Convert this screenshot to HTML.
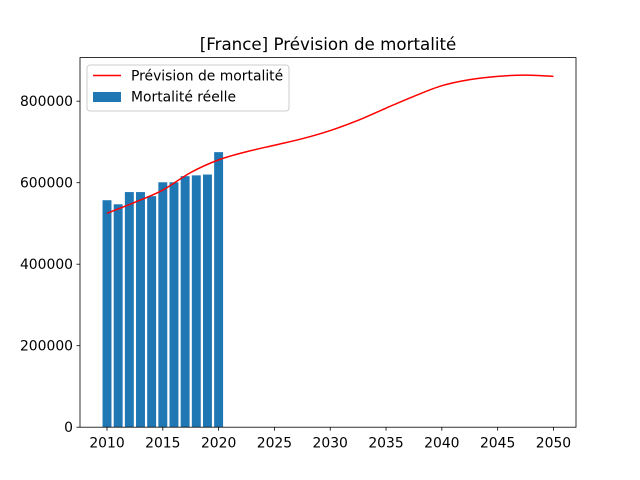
<!DOCTYPE html>
<html><head><meta charset="utf-8"><style>
html,body{margin:0;padding:0;background:#fff;}
svg{display:block;font-family:"DejaVu Sans","Liberation Sans",sans-serif;}
</style></head><body>
<svg id="chart" width="640" height="480" xmlns="http://www.w3.org/2000/svg">
<rect width="640" height="480" fill="#fff"/>
<text x="328" y="50" text-anchor="middle" font-size="16.7" fill="#000">[France] Prévision de mortalité</text>
<g id="bars"></g>
<g id="line"></g>
<g id="axes"></g>
<g>
<rect x="87" y="65" width="202" height="46" rx="3" fill="#fff" fill-opacity="0.8" stroke="#ccc"/>
<line x1="93" y1="75.5" x2="121" y2="75.5" stroke="#ff0000" stroke-width="1.5"/>
<text x="131" y="80.5" font-size="13.9">Prévision de mortalité</text>
<rect x="93" y="92" width="28" height="10" fill="#1f77b4"/>
<text x="131" y="101.5" font-size="13.9">Mortalité réelle</text>
</g>
</svg>
<script>
const barYears=[2010,2011,2012,2013,2014,2015,2016,2017,2018,2019,2020];
const barValues=[557000,547000,577000,577000,567000,601000,601000,616000,618000,620000,675000];
const lineYears=[2010,2012.5,2015,2017.5,2020,2022.5,2025,2027.5,2030,2032.5,2035,2037.5,2040,2042.5,2045,2047.5,2050];
const lineValues=[525000,552000,582000,625000,656000,676000,692000,708000,728000,753000,783000,812000,838000,853000,861000,864000,861000];
const xTicks=[2010,2015,2020,2025,2030,2035,2040,2045,2050];
const yTicks=[0,200000,400000,600000,800000];
const NS="http://www.w3.org/2000/svg";
const L=80,R=576,T=57.6,B=427.2;
const x0=2007.58,x1=2052.02,y0=0,y1=907000;
const X=v=>L+(v-x0)/(x1-x0)*(R-L);
const Y=v=>B-(v-y0)/(y1-y0)*(B-T);
function mk(t,a,p){const e=document.createElementNS(NS,t);for(const k in a)e.setAttribute(k,a[k]);p.appendChild(e);return e;}
const bg=document.getElementById('bars');
barYears.forEach((yr,i)=>{
 const r=mk('rect',{x:X(yr-0.4),y:Y(barValues[i]),width:X(yr+0.4)-X(yr-0.4),height:Y(0)-Y(barValues[i]),fill:'#1f77b4'},bg);
 
 
});
const pts=lineYears.map((yr,i)=>[X(yr),Y(lineValues[i])]);
let d='M'+pts[0][0]+','+pts[0][1];
for(let i=0;i<pts.length-1;i++){
 const p0=pts[Math.max(i-1,0)],p1=pts[i],p2=pts[i+1],p3=pts[Math.min(i+2,pts.length-1)];
 const c1=[p1[0]+(p2[0]-p0[0])/6,p1[1]+(p2[1]-p0[1])/6];
 const c2=[p2[0]-(p3[0]-p1[0])/6,p2[1]-(p3[1]-p1[1])/6];
 d+=' C'+c1+' '+c2+' '+p2;
}
const ln=mk('path',{d:d,fill:'none',stroke:'#ff0000','stroke-width':1.5},document.getElementById('line'));


const ax=document.getElementById('axes');
const fr=mk('rect',{x:L,y:T,width:R-L,height:B-T,fill:'none',stroke:'#000','stroke-width':0.8},ax);


xTicks.forEach(v=>{
 const g=mk('g',{},ax);
 
 
 mk('line',{x1:X(v),x2:X(v),y1:B,y2:B+3.5,stroke:'#000','stroke-width':0.8},g);
 const t=mk('text',{x:X(v),y:B+20.5,'text-anchor':'middle','font-size':13.9},g);t.textContent=v;
});
yTicks.forEach(v=>{
 const g=mk('g',{},ax);
 
 
 mk('line',{x1:L-3.5,x2:L,y1:Y(v),y2:Y(v),stroke:'#000','stroke-width':0.8},g);
 const t=mk('text',{x:L-7,y:Y(v)+5,'text-anchor':'end','font-size':13.9},g);t.textContent=v;
});
</script>
</body></html>
